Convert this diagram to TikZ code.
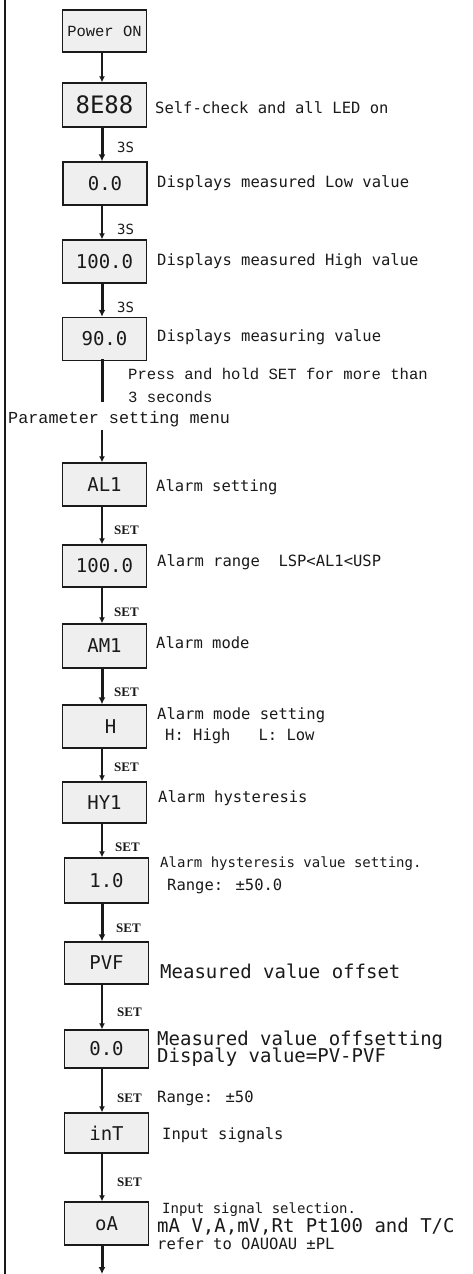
\documentclass[tikz,border=0pt]{standalone}
\usepackage{fontspec}
\usetikzlibrary{arrows.meta}
\newfontfamily\dsm{DejaVu Sans Mono}
\newfontfamily\lmono{Liberation Mono}
\newfontfamily\lserif{Liberation Serif}
\definecolor{ink}{HTML}{1A1A1A}
\definecolor{boxfill}{HTML}{EFEFEF}
\newcommand{\fsz}[1]{\fontsize{#1}{#1}\selectfont}
\begin{document}
\begin{tikzpicture}[x=1pt,y=-1pt,
 dbox/.style={draw=ink,line width=1.4pt,fill=boxfill,minimum width=84pt,minimum height=43pt,inner sep=0pt,font=\dsm\fsz{19},text=ink},
 desc/.style={anchor=west,inner sep=0pt,text=ink,font=\dsm\fsz{15.5}},
 big/.style={desc,font=\dsm\fsz{19}},
 smalltext/.style={desc,font=\dsm\fsz{14}},
 lab/.style={anchor=west,inner sep=0pt,text=ink,font=\lserif\bfseries\fsz{13}},
 tlab/.style={anchor=west,inner sep=0pt,text=ink,font=\dsm\fsz{14}},
 thinarrow/.style={draw=ink,line width=1.2pt,-{Latex[length=6pt,width=6pt]}},
 thickarrow/.style={draw=ink,line width=3pt,-{Latex[length=7pt,width=7pt]}},
]
\useasboundingbox (0,0) rectangle (472,1274);
\fill[white] (0,0) rectangle (472,1274);
\draw[ink,line width=2pt] (5,0) -- (5,1274);
\coordinate (ax) at (102,0);

% boxes
\node[dbox,minimum height=42pt,font=\lmono\fsz{15.5}] (b1) at (104.5,31) {Power ON};
\node[dbox,minimum height=44pt,font=\dsm\fsz{24}] (b2) at (104.5,105) {8E88};
\node[dbox] (b3) at (105,183.5) {0.0};
\node[dbox] (b4) at (104.5,261.5) {100.0};
\node[dbox] (b5) at (104.5,339) {90.0};
\node[dbox] (b6) at (104.5,484.5) {AL1};
\node[dbox,minimum height=42pt] (b7) at (104.5,566) {100.0};
\node[dbox,minimum height=44pt] (b8) at (104.5,646) {AM1};
\node[dbox] (b9) at (104.5,726.5) {\hspace*{12pt}H};
\node[dbox,minimum height=41pt] (b10) at (104.5,802.5) {HY1};
\node[dbox,minimum height=45pt] (b11) at (106.5,880.5) {1.0};
\node[dbox,minimum height=42pt] (b12) at (106.5,963) {PVF};
\node[dbox,minimum height=38pt] (b13) at (106.5,1049) {0.0};
\node[dbox,minimum height=40pt] (b14) at (106.5,1133) {inT};
\node[dbox,minimum height=43pt] (b15) at (106.5,1223.5) {oA};

% descriptions
\node[desc] (t2) at (155,108) {Self-check and all LED on};
\node[desc] (t3) at (157,183) {Displays measured Low value};
\node[desc] (t4) at (157,261) {Displays measured High value};
\node[desc] (t5) at (157,337) {Displays measuring value};
\node[anchor=west,inner sep=0pt,text=ink,font=\lmono\fsz{15.6}] (p1) at (128,374) {Press and hold SET for more than};
\node[anchor=west,inner sep=0pt,text=ink,font=\lmono\fsz{15.6}] (p2) at (128,397) {3 seconds};
\node[anchor=west,inner sep=0pt,text=ink,font=\lmono\fsz{16.8}] (menu) at (8,419) {Parameter setting menu};
\node[desc] (t6) at (156,487) {Alarm setting};
\node[desc] (t7) at (157,562) {Alarm range~~LSP<AL1<USP};
\node[desc] (t8) at (156,643) {Alarm mode};
\node[desc] (t9a) at (157,715) {Alarm mode setting};
\node[desc] (t9b) at (165,736) {H: High~~~L: Low};
\node[desc] (t10) at (158,798) {Alarm hysteresis};
\node[smalltext] (t11a) at (160,864) {Alarm hysteresis value setting.};
\node[desc] (t11b) at (167,886) {Range: ±50.0};
\node[big] (t12) at (160,971) {Measured value offset};
\node[big] (t13a) at (157,1040) {Measured value offsetting};
\node[big] (t13b) at (157,1057) {Dispaly value=PV-PVF};
\node[desc] (t13c) at (157,1098) {Range: ±50};
\node[desc] (t14) at (162,1135) {Input signals};
\node[smalltext] (t15a) at (162,1210) {Input signal selection.};
\node[big] (t15b) at (157,1227) {mA V,A,mV,Rt Pt100 and T/C};
\node[desc] (t15c) at (157,1244) {refer to OAUOAU ±PL};

% connector labels
\node[tlab] (l1) at (117,147) {3S};
\node[tlab] (l2) at (117,229) {3S};
\node[tlab] (l3) at (117,307) {3S};
\node[lab] (s1) at (114,530) {SET};
\node[lab] (s2) at (114,612) {SET};
\node[lab] (s3) at (114,692) {SET};
\node[lab] (s4) at (114,767) {SET};
\node[lab] (s5) at (115,847) {SET};
\node[lab] (s6) at (116,928) {SET};
\node[lab] (s7) at (117,1012) {SET};
\node[lab] (s8) at (117,1098) {SET};
\node[lab] (s9) at (117,1182) {SET};

% connectors
\coordinate (pend) at (102,402);
\coordinate (mtop) at (102,430);
\coordinate (bot) at (102,1274);
\draw[thinarrow] (b1.south -| ax) -- (b2.north -| ax);
\draw[thickarrow] (b2.south -| ax) -- (b3.north -| ax);
\draw[thinarrow] (b3.south -| ax) -- (b4.north -| ax);
\draw[thickarrow] (b4.south -| ax) -- (b5.north -| ax);
\draw[ink,line width=3pt] ([yshift=2pt]b5.south -| ax) -- (pend);
\draw[thinarrow] (mtop) -- (b6.north -| ax);
\draw[thinarrow] (b6.south -| ax) -- (b7.north -| ax);
\draw[thinarrow] (b7.south -| ax) -- (b8.north -| ax);
\draw[thickarrow] (b8.south -| ax) -- (b9.north -| ax);
\draw[thinarrow] (b9.south -| ax) -- (b10.north -| ax);
\draw[thinarrow] (b10.south -| ax) -- (b11.north -| ax);
\draw[thickarrow] (b11.south -| ax) -- (b12.north -| ax);
\draw[thinarrow] (b12.south -| ax) -- (b13.north -| ax);
\draw[thinarrow] (b13.south -| ax) -- (b14.north -| ax);
\draw[thinarrow] (b14.south -| ax) -- (b15.north -| ax);
\draw[thickarrow] (b15.south -| ax) -- (bot);
\end{tikzpicture}
\end{document}
